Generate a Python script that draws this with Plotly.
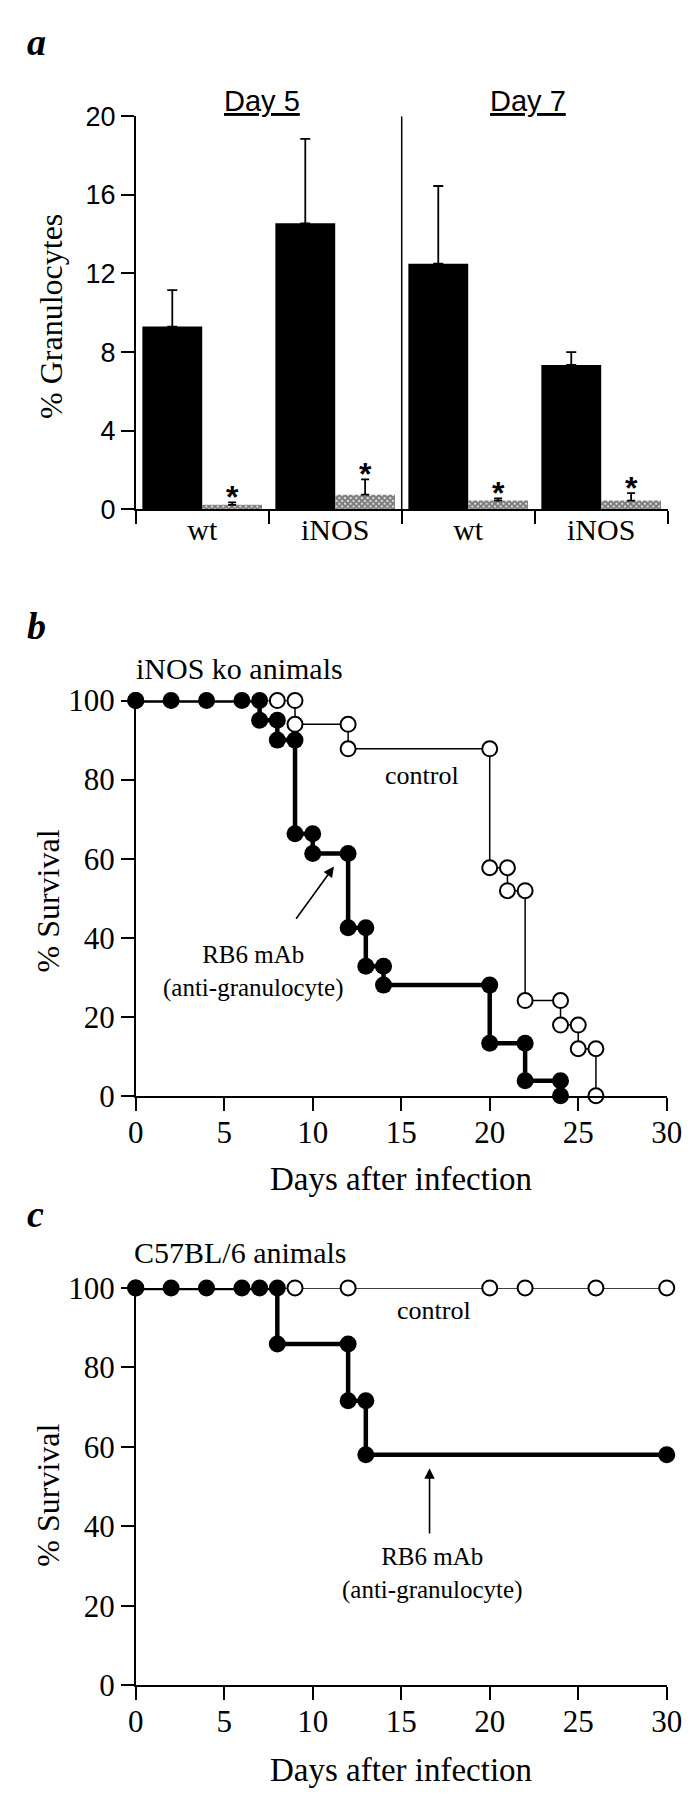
import plotly.graph_objects as go

W, H = 695, 1800

# ---------------- Panel a data ----------------
groups = ["wt", "iNOS", "wt", "iNOS"]
day_labels = ["Day 5", "Day 7"]
black_vals = [9.3, 14.55, 12.5, 7.35]
black_err = [1.85, 4.3, 3.95, 0.65]
hatched_vals = [0.23, 0.75, 0.45, 0.45]
hatched_err = [0.13, 0.78, 0.11, 0.38]
sig_marks = ["*", "*", "*", "*"]
a_yticks = [0, 4, 8, 12, 16, 20]

# ---------------- Panel b data (iNOS ko) ----------------
b_rb6_days = [0, 2, 4, 6, 7, 7, 8, 8, 9, 9, 10, 10, 12, 12, 13, 13, 14, 14, 20, 20, 22, 22, 24, 24]
b_rb6_surv = [100, 100, 100, 100, 100, 95, 95, 90, 90, 66.3, 66.3, 61.3, 61.3, 42.5, 42.5,
              32.8, 32.8, 28, 28, 13.3, 13.3, 3.8, 3.8, 0]
b_ctrl_days = [0, 8, 9, 9, 12, 12, 20, 20, 21, 21, 22, 22, 24, 24, 25, 25, 26, 26]
b_ctrl_surv = [100, 100, 100, 94, 94, 87.8, 87.8, 57.7, 57.7, 51.9, 51.9, 24.1, 24.1,
               17.9, 17.9, 11.9, 11.9, 0]

# ---------------- Panel c data (C57BL/6) ----------------
c_rb6_days = [0, 2, 4, 6, 7, 8, 8, 12, 12, 13, 13, 30]
c_rb6_surv = [100, 100, 100, 100, 100, 100, 85.9, 85.9, 71.6, 71.6, 58, 58]
c_ctrl_days = [0, 9, 12, 20, 22, 26, 30]
c_ctrl_surv = [100, 100, 100, 100, 100, 100, 100]

surv_xticks = [0, 5, 10, 15, 20, 25, 30]
surv_yticks = [0, 20, 40, 60, 80, 100]

SERIF = "Liberation Serif, Times New Roman, serif"
SANS = "Liberation Sans, Arial, sans-serif"


def px_x(p):
    return p / W


def px_y(p):
    return 1 - p / H


fig = go.Figure()

# ---------- Panel a ----------
centers = [i + 0.5 for i in range(len(groups))]
bargap = 0.1
fig.add_trace(go.Bar(
    x=centers, y=black_vals, marker=dict(color="black", line=dict(width=0)),
    error_y=dict(type="data", array=black_err, arrayminus=[0] * len(black_err),
                 symmetric=False, color="black", thickness=1.8, width=5),
    xaxis="x", yaxis="y", showlegend=False))
fig.add_trace(go.Bar(
    x=centers, y=hatched_vals,
    marker=dict(color="white", line=dict(width=0),
                pattern=dict(shape="x", fgcolor="black", bgcolor="white", size=4, solidity=0.8)),
    error_y=dict(type="data", array=hatched_err, arrayminus=[0] * len(hatched_err),
                 symmetric=False, color="black", thickness=1.8, width=4),
    xaxis="x", yaxis="y", showlegend=False))
off = (1 - bargap) / 4

# ---------- Panel b ----------
fig.add_trace(go.Scatter(
    x=b_ctrl_days, y=b_ctrl_surv, mode="lines+markers",
    line=dict(color="black", width=1.5),
    marker=dict(symbol="circle", size=15, color="white", line=dict(color="black", width=2)),
    cliponaxis=False, xaxis="x2", yaxis="y2", showlegend=False))
fig.add_trace(go.Scatter(
    x=b_rb6_days, y=b_rb6_surv, mode="lines+markers",
    line=dict(color="black", width=4.5),
    marker=dict(symbol="circle", size=17, color="black"),
    cliponaxis=False, xaxis="x2", yaxis="y2", showlegend=False))

# ---------- Panel c ----------
fig.add_trace(go.Scatter(
    x=c_ctrl_days, y=c_ctrl_surv, mode="lines+markers",
    line=dict(color="black", width=1.5),
    marker=dict(symbol="circle", size=15, color="white", line=dict(color="black", width=2)),
    cliponaxis=False, xaxis="x3", yaxis="y3", showlegend=False))
fig.add_trace(go.Scatter(
    x=c_rb6_days, y=c_rb6_surv, mode="lines+markers",
    line=dict(color="black", width=4.5),
    marker=dict(symbol="circle", size=17, color="black"),
    cliponaxis=False, xaxis="x3", yaxis="y3", showlegend=False))

axis_common = dict(showline=True, linecolor="black", linewidth=1.6, ticks="outside",
                   ticklen=13, tickwidth=1.6, tickcolor="black", showgrid=False,
                   zeroline=False, fixedrange=True)

surv_x = dict(axis_common, range=[0, 30], tickvals=surv_xticks,
              tickfont=dict(family=SERIF, size=31, color="black"), ticklabelstandoff=-5,
              domain=[px_x(124), px_x(674)])
surv_y_font = dict(family=SERIF, size=31, color="black")

fig.update_layout(
    width=W, height=H,
    margin=dict(l=0, r=0, t=0, b=0),
    paper_bgcolor="white", plot_bgcolor="white",
    barmode="group", bargap=bargap, bargroupgap=0,
    xaxis=dict(axis_common, anchor="y", domain=[px_x(124), px_x(675)], range=[0, 4],
               tickmode="array", tickvals=centers, ticktext=groups, ticks="",
               ticklabelstandoff=-7,
               tickfont=dict(family=SERIF, size=30, color="black"),
               minor=dict(tickmode="array", tickvals=list(range(len(groups) + 1)),
                          ticks="outside", ticklen=13, tickwidth=1.6, tickcolor="black",
                          showgrid=False)),
    yaxis=dict(axis_common, anchor="x", domain=[px_y(494), px_y(93)], range=[0, 20],
               tickvals=a_yticks, tickfont=dict(family=SANS, size=27, color="black")),
    xaxis2=dict(surv_x, anchor="y2"),
    yaxis2=dict(axis_common, anchor="x2", domain=[px_y(1092), px_y(689)], range=[0, 100],
                tickvals=surv_yticks, tickfont=surv_y_font),
    xaxis3=dict(surv_x, anchor="y3"),
    yaxis3=dict(axis_common, anchor="x3", domain=[px_y(1693), px_y(1288)], range=[0, 100],
                tickvals=surv_yticks, tickfont=surv_y_font),
)

# divider between day groups
fig.add_shape(type="line", xref="x", yref="y", x0=len(groups) / 2, x1=len(groups) / 2,
              y0=0, y1=20, line=dict(color="black", width=1.5))

ann = []


def text_ann(text, x, y, size, family=SERIF, xanchor="center", angle=0, xref="paper",
             yref="paper", bold=False, italic=False, yshift=0):
    f = dict(family=family, size=size, color="black")
    if bold:
        f["weight"] = "bold"
    if italic:
        f["style"] = "italic"
    ann.append(dict(text=text, x=x, y=y, xref=xref, yref=yref, xanchor=xanchor,
                    yanchor="middle", showarrow=False, font=f, textangle=angle,
                    yshift=yshift))


# significance asterisks above the hatched bars
for c, v, e, m in zip(centers, hatched_vals, hatched_err, sig_marks):
    text_ann(m, c + off, v + e, 32, family=SANS, xref="x", yref="y", bold=True, yshift=5)

# panel letters
text_ann("a", px_x(9), px_y(17), 38, xanchor="left", bold=True, italic=True)
text_ann("b", px_x(9), px_y(613), 38, xanchor="left", bold=True, italic=True)
text_ann("c", px_x(9), px_y(1213), 38, xanchor="left", bold=True, italic=True)

# panel a
text_ann("% Granulocytes", px_x(36), px_y(297), 32, angle=-90)
for i, lbl in enumerate(day_labels):
    text_ann("<u>" + lbl + "</u>", 2 * i + 0.95, px_y(77), 29, family=SANS, xref="x")

# panel b
text_ann("iNOS ko animals", px_x(122), px_y(656), 30, xanchor="left")
text_ann("% Survival", px_x(33), px_y(893), 32, angle=-90)
text_ann("Days after infection", px_x(399), px_y(1177), 33)
text_ann("control", 16.15, 81.1, 26, xref="x2", yref="y2")
text_ann("RB6 mAb<br>(anti-granulocyte)", 6.65, 31.4, 25, xref="x2", yref="y2")
ann.append(dict(x=11.2, y=58, ax=9.0, ay=44.4, xref="x2", yref="y2", axref="x2", ayref="y2",
                text="", showarrow=True, arrowhead=2, arrowsize=1.3, arrowwidth=1.6,
                arrowcolor="black"))

# panel c
text_ann("C57BL/6 animals", px_x(120), px_y(1252), 30, xanchor="left")
text_ann("% Survival", px_x(33), px_y(1499), 32, angle=-90)
text_ann("Days after infection", px_x(399), px_y(1780), 33)
text_ann("control", 16.85, 94.3, 26, xref="x3", yref="y3")
text_ann("RB6 mAb<br>(anti-granulocyte)", 16.75, 28.2, 25, xref="x3", yref="y3")
ann.append(dict(x=16.6, y=54.6, ax=16.6, ay=37.8, xref="x3", yref="y3", axref="x3", ayref="y3",
                text="", showarrow=True, arrowhead=2, arrowsize=1.3, arrowwidth=1.6,
                arrowcolor="black"))

fig.update_layout(annotations=ann)

fig.write_html("out.html")
